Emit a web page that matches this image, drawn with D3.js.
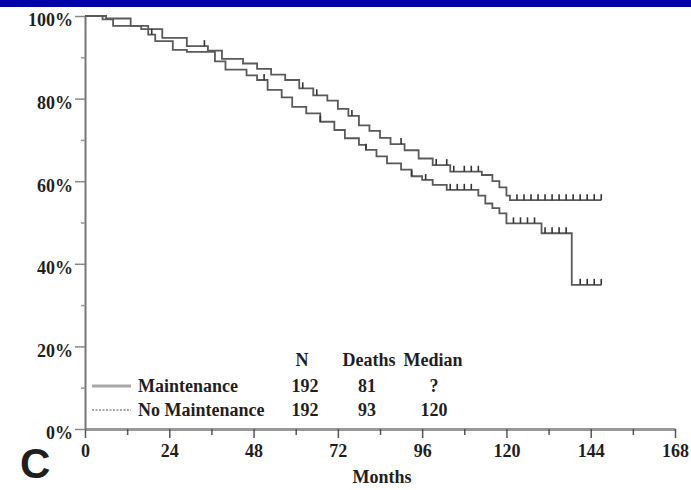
<!DOCTYPE html>
<html>
<head>
<meta charset="utf-8">
<script src="https://cdn.jsdelivr.net/npm/d3@7"></script>
<style>
  body { margin: 0; background: #fff; }
  svg text { font-family: "Liberation Serif", "Times New Roman", serif; fill: #1f1f1f; font-weight: bold; }
</style>
</head>
<body>
<div id="km"></div>
<script>
// Survival steps (months, % surviving)
const maintMonths = [0, 6, 13, 16, 22, 29, 35, 39, 45, 49, 53, 57, 61, 65, 69, 72, 75, 78, 81, 84, 87, 91, 95, 99, 104, 113, 116, 118, 120, 121, 147];
const maintSurv   = [100, 99.4, 97.6, 96.8, 94.7, 92.7, 91.6, 89.6, 88.5, 87.2, 85.8, 84.5, 82.5, 80.8, 79.5, 77.5, 75.8, 73.5, 72.2, 70.5, 69.0, 67.5, 65.5, 63.9, 62.3, 61.5, 60.0, 58.5, 56.5, 55.4, 55.4];
const noMaintMonths = [0, 5, 8, 18, 20, 25, 29, 37, 40, 46, 49, 52, 56, 59, 63, 67, 71, 74, 78, 80, 83, 86, 90, 93, 96, 99, 103, 112, 114, 116, 118, 120, 130, 138.6, 147];
const noMaintSurv   = [100, 99.2, 97.6, 95.5, 93.9, 91.8, 91.3, 89.0, 87.0, 85.6, 84.5, 82.1, 80.3, 78.0, 76.4, 74.4, 72.4, 70.4, 68.8, 67.6, 66.0, 64.3, 62.8, 61.2, 60.3, 59.1, 57.9, 56.5, 54.6, 53.5, 52.2, 49.8, 47.4, 34.9, 34.9];

// Censored observations (months)
const maintCensor = [34, 62, 66, 76, 90, 100, 103, 105, 108, 110, 112, 123, 125, 127, 129, 131, 133, 135, 137, 139, 141, 143, 145, 147];
const noMaintCensor = [19, 51, 67, 80, 93, 97, 104, 106, 108, 110, 122, 124, 126, 128, 131, 133, 135, 137, 141, 143, 145, 147];

// Axis ticks
const xMajor = [0, 24, 48, 72, 96, 120, 144, 168];
const xMinor = [12, 36, 60, 84, 108, 132, 156];
const yMajor = [0, 20, 40, 60, 80, 100];
const yMinor = [10, 30, 50, 70, 90];

// Legend table
const groups = ["Maintenance", "No Maintenance"];
const groupN = [192, 192];
const groupDeaths = [81, 93];
const groupMedian = ["?", "120"];

const width = 691, height = 490;

const svg = d3.select("#km")
    .append("svg")
    .attr("width", width)
    .attr("height", height);

// blue strip across the top
svg.append("rect")
    .attr("x", 0).attr("y", 0)
    .attr("width", width).attr("height", 7)
    .attr("fill", "#0000a8");

const x = d3.scaleLinear().domain([0, 168]).range([85, 675]);
const y = d3.scaleLinear().domain([0, 100]).range([429, 16]);

// X axis
const xAxisG = svg.append("g")
    .attr("transform", `translate(0, ${y(0)})`)
    .call(d3.axisBottom(x).tickValues(xMajor).tickSize(9).tickSizeOuter(0).tickFormat(d => d));
xAxisG.select(".domain").attr("stroke", "#999").attr("stroke-width", 3);
xAxisG.selectAll(".tick line").attr("stroke", "#555").attr("stroke-width", 1.5);
xAxisG.selectAll("text").attr("font-size", 18).attr("dy", "0.65em").attr("y", 16);

svg.append("g")
    .attr("transform", `translate(0, ${y(0)})`)
    .call(d3.axisBottom(x).tickValues(xMinor).tickSize(6).tickFormat(""))
    .call(g => g.select(".domain").remove())
    .selectAll(".tick line").attr("stroke", "#555").attr("stroke-width", 1.5);

// Y axis
const yAxisG = svg.append("g")
    .attr("transform", `translate(${x(0)}, 0)`)
    .call(d3.axisLeft(y).tickValues(yMajor).tickSize(10).tickSizeOuter(0).tickFormat(d => d + "%"));
yAxisG.select(".domain").attr("stroke", "#777").attr("stroke-width", 2);
yAxisG.selectAll(".tick line").attr("stroke", "#888").attr("stroke-width", 1.5);
yAxisG.selectAll("text").attr("font-size", 18).attr("x", -12).attr("dy", "0.55em");

svg.append("g")
    .attr("transform", `translate(${x(0)}, 0)`)
    .call(d3.axisLeft(y).tickValues(yMinor).tickSize(4).tickFormat(""))
    .call(g => g.select(".domain").remove())
    .selectAll(".tick line").attr("stroke", "#999").attr("stroke-width", 1.5);

// Curves
const stepLine = d3.line()
    .x(d => x(d[0]))
    .y(d => y(d[1]))
    .curve(d3.curveStepAfter);

const curves = [
    { months: maintMonths, surv: maintSurv, censor: maintCensor },
    { months: noMaintMonths, surv: noMaintSurv, censor: noMaintCensor }
];

curves.forEach(c => {
    const pts = c.months.map((m, i) => [m, c.surv[i]]);
    svg.append("path")
        .datum(pts)
        .attr("fill", "none")
        .attr("stroke", "#5a5a5a")
        .attr("stroke-width", 1.8)
        .attr("d", stepLine);

    // survival at a given month, for placing censor ticks
    const survAt = m => {
        const i = d3.bisectRight(c.months, m) - 1;
        return c.surv[Math.max(0, i)];
    };
    svg.append("g")
        .selectAll("line")
        .data(c.censor)
        .enter().append("line")
        .attr("x1", d => x(d)).attr("x2", d => x(d))
        .attr("y1", d => y(survAt(d)))
        .attr("y2", d => y(survAt(d)) - 6)
        .attr("stroke", "#333")
        .attr("stroke-width", 1.6);
});

// Legend table
const rowY = [392, 416];
const legend = svg.append("g");

legend.selectAll(".hdr")
    .data([["N", 302], ["Deaths", 369], ["Median", 433]])
    .enter().append("text")
    .attr("x", d => d[1]).attr("y", 366)
    .attr("text-anchor", "middle")
    .attr("font-size", 18)
    .text(d => d[0]);

groups.forEach((g, i) => {
    legend.append("line")
        .attr("x1", 92).attr("x2", 131)
        .attr("y1", rowY[i] - 6).attr("y2", rowY[i] - 6)
        .attr("stroke", i === 0 ? "#a8a8a8" : "#8a8a8a")
        .attr("stroke-width", i === 0 ? 3 : 1.5)
        .attr("stroke-dasharray", i === 0 ? null : "2,1.5");
    legend.append("text").attr("x", 138).attr("y", rowY[i]).attr("font-size", 18).text(g);
    legend.append("text").attr("x", 305).attr("y", rowY[i]).attr("font-size", 18)
        .attr("text-anchor", "middle").text(groupN[i]);
    legend.append("text").attr("x", 367).attr("y", rowY[i]).attr("font-size", 18)
        .attr("text-anchor", "middle").text(groupDeaths[i]);
    legend.append("text").attr("x", 434).attr("y", rowY[i]).attr("font-size", 18)
        .attr("text-anchor", "middle").text(groupMedian[i]);
});

// Axis title and panel letter
svg.append("text")
    .attr("x", 382).attr("y", 483)
    .attr("text-anchor", "middle")
    .attr("font-size", 18)
    .text("Months");

svg.append("text")
    .attr("x", 20).attr("y", 478)
    .style("font-family", "'Liberation Sans', Arial, sans-serif")
    .attr("font-size", 42)
    .attr("font-weight", "bold")
    .text("C");
</script>
</body>
</html>
